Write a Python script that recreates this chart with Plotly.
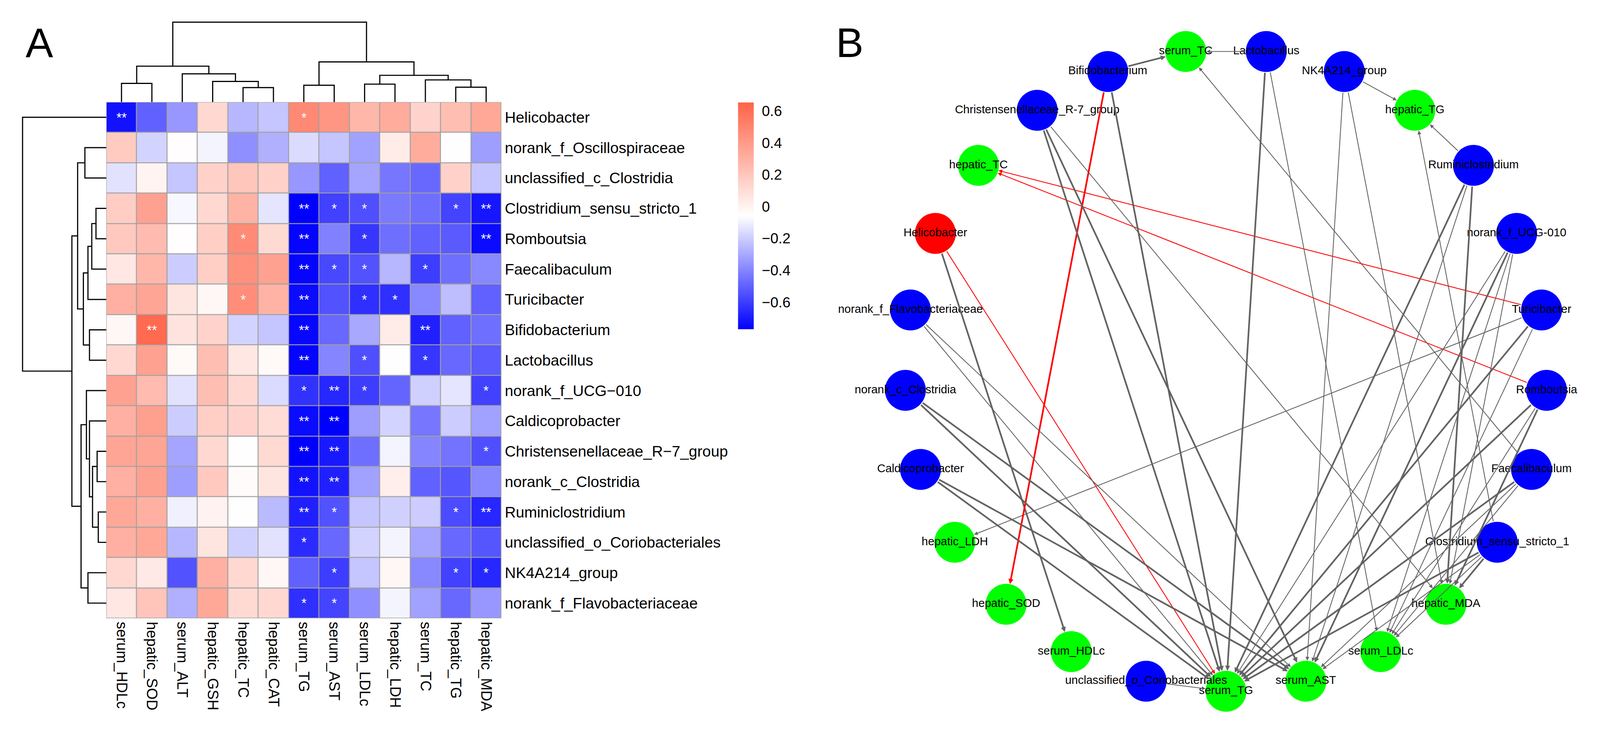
import math
import plotly.graph_objects as go

W, H = 4184, 1910
FONT = "Liberation Sans, Arial, sans-serif"

# ---------------- data ----------------
col_labels = ["serum_HDLc", "hepatic_SOD", "serum_ALT", "hepatic_GSH", "hepatic_TC", "hepatic_CAT",
              "serum_TG", "serum_AST", "serum_LDLc", "hepatic_LDH", "serum_TC", "hepatic_TG", "hepatic_MDA"]

row_labels = ["Helicobacter", "norank_f_Oscillospiraceae", "unclassified_c_Clostridia",
              "Clostridium_sensu_stricto_1", "Romboutsia", "Faecalibaculum", "Turicibacter",
              "Bifidobacterium", "Lactobacillus", "norank_f_UCG-010", "Caldicoprobacter",
              "Christensenellaceae_R-7_group", "norank_c_Clostridia", "Ruminiclostridium",
              "unclassified_o_Coriobacteriales", "NK4A214_group", "norank_f_Flavobacteriaceae"]

corr = [
    [-0.72, -0.50, -0.35, 0.12, -0.26, -0.22, 0.48, 0.42, 0.27, 0.32, 0.14, 0.24, 0.34],
    [0.18, -0.18, -0.05, -0.09, -0.37, -0.28, -0.16, -0.22, -0.32, 0.03, 0.32, -0.06, -0.33],
    [-0.14, -0.01, -0.22, 0.15, 0.20, 0.15, -0.35, -0.50, -0.31, -0.44, -0.48, 0.15, -0.22],
    [0.17, 0.37, -0.08, 0.12, 0.29, -0.13, -0.77, -0.59, -0.55, -0.43, -0.46, -0.58, -0.71],
    [0.19, 0.25, -0.05, 0.16, 0.47, 0.11, -0.76, -0.41, -0.62, -0.46, -0.50, -0.52, -0.74],
    [0.05, 0.27, -0.20, 0.16, 0.45, 0.37, -0.76, -0.57, -0.54, -0.26, -0.60, -0.46, -0.39],
    [0.30, 0.35, 0.06, -0.02, 0.46, 0.29, -0.74, -0.54, -0.64, -0.64, -0.39, -0.24, -0.50],
    [-0.02, 0.62, 0.07, 0.14, -0.18, -0.22, -0.75, -0.48, -0.30, 0.03, -0.68, -0.50, -0.46],
    [0.12, 0.37, -0.03, 0.24, 0.05, -0.03, -0.76, -0.40, -0.55, -0.06, -0.62, -0.48, -0.52],
    [0.37, 0.25, -0.14, 0.24, 0.12, -0.16, -0.63, -0.66, -0.60, -0.49, -0.19, -0.13, -0.59],
    [0.30, 0.38, -0.20, 0.16, 0.14, 0.10, -0.74, -0.77, -0.33, -0.18, -0.44, -0.20, -0.32],
    [0.35, 0.35, -0.31, 0.12, -0.06, 0.11, -0.77, -0.70, -0.46, -0.09, -0.40, -0.45, -0.55],
    [0.30, 0.37, -0.33, 0.19, -0.04, 0.06, -0.72, -0.68, -0.32, 0.02, -0.50, -0.53, -0.39],
    [0.34, 0.30, -0.10, 0.00, -0.06, -0.25, -0.68, -0.54, -0.22, -0.19, -0.20, -0.56, -0.66],
    [0.30, 0.34, -0.26, 0.06, -0.19, -0.14, -0.65, -0.48, -0.18, -0.09, -0.31, -0.48, -0.53],
    [0.12, 0.04, -0.54, 0.30, 0.12, -0.02, -0.50, -0.60, -0.22, -0.02, -0.39, -0.59, -0.66],
    [0.05, 0.21, -0.28, 0.34, 0.11, 0.12, -0.64, -0.58, -0.37, -0.09, -0.32, -0.48, -0.35],
]

sig = [
    ["**", "", "", "", "", "", "*", "", "", "", "", "", ""],
    ["", "", "", "", "", "", "", "", "", "", "", "", ""],
    ["", "", "", "", "", "", "", "", "", "", "", "", ""],
    ["", "", "", "", "", "", "**", "*", "*", "", "", "*", "**"],
    ["", "", "", "", "*", "", "**", "", "*", "", "", "", "**"],
    ["", "", "", "", "", "", "**", "*", "*", "", "*", "", ""],
    ["", "", "", "", "*", "", "**", "", "*", "*", "", "", ""],
    ["", "**", "", "", "", "", "**", "", "", "", "**", "", ""],
    ["", "", "", "", "", "", "**", "", "*", "", "*", "", ""],
    ["", "", "", "", "", "", "*", "**", "*", "", "", "", "*"],
    ["", "", "", "", "", "", "**", "**", "", "", "", "", ""],
    ["", "", "", "", "", "", "**", "**", "", "", "", "", "*"],
    ["", "", "", "", "", "", "**", "**", "", "", "", "", ""],
    ["", "", "", "", "", "", "**", "*", "", "", "", "*", "**"],
    ["", "", "", "", "", "", "*", "", "", "", "", "", ""],
    ["", "", "", "", "", "", "", "*", "", "", "", "*", "*"],
    ["", "", "", "", "", "", "*", "*", "", "", "", "", ""],
]

# column dendrogram merges: (child a, child b, height); ids >= 13 refer to earlier merges
col_merges = [(0, 1, 49), (4, 5, 38), (3, 14, 54), (2, 15, 74), (13, 16, 94),
              (6, 7, 44), (8, 9, 47), (11, 12, 39), (10, 20, 58), (19, 21, 70),
              (18, 22, 105), (17, 23, 209)]

# row dendrogram merges: ids >= 17 refer to earlier merges
row_merges = [(3, 4, 27), (17, 5, 38), (6, 18, 48), (7, 8, 44), (19, 20, 60),
              (1, 2, 56), (22, 21, 75),
              (11, 12, 24), (13, 14, 21), (24, 25, 36), (10, 26, 44), (9, 27, 52),
              (15, 16, 48), (28, 29, 66),
              (23, 30, 90), (0, 31, 219)]

# network: circular layout order (from bottom, counter-clockwise)
net_order = ["serum_TG", "serum_AST", "serum_LDLc", "hepatic_MDA", "Clostridium_sensu_stricto_1",
             "Faecalibaculum", "Romboutsia", "Turicibacter", "norank_f_UCG-010", "Ruminiclostridium",
             "hepatic_TG", "NK4A214_group", "Lactobacillus", "serum_TC", "Bifidobacterium",
             "Christensenellaceae_R-7_group", "hepatic_TC", "Helicobacter", "norank_f_Flavobacteriaceae",
             "norank_c_Clostridia", "Caldicoprobacter", "hepatic_LDH", "hepatic_SOD", "serum_HDLc",
             "unclassified_o_Coriobacteriales"]
red_nodes = ["Helicobacter"]


# ---------------- helpers ----------------
def px(x):
    return x / W


def py(y):
    return 1 - y / H


def dendro_segments(n, merges):
    pos = {i: float(i) for i in range(n)}
    hgt = {i: 0.0 for i in range(n)}
    segs = []
    for k, (a, b, h) in enumerate(merges):
        nid = n + k
        segs.append(([pos[a], pos[a], pos[b], pos[b]], [hgt[a], h, h, hgt[b]]))
        pos[nid] = (pos[a] + pos[b]) / 2
        hgt[nid] = h
    return segs


fig = go.Figure()

# ---------------- heatmap ----------------
disp_rows = [r.replace("-", "\u2212") for r in row_labels]
fig.add_trace(go.Heatmap(
    z=corr, x=list(range(len(col_labels))), y=list(range(len(row_labels))),
    text=sig, texttemplate="%{text}", textfont=dict(color="white", size=35, family=FONT),
    colorscale=[[0, "#0000FF"], [0.5, "#FFFFFF"], [1, "#FF6347"]],
    zmin=-0.77, zmax=0.653, xgap=2.5, ygap=2.5,
    xaxis="x", yaxis="y", hoverinfo="skip",
    colorbar=dict(
        x=px(1930), xanchor="left", y=py(268), yanchor="top",
        len=593, lenmode="pixels", thickness=41, thicknessmode="pixels",
        xpad=0, ypad=0, outlinewidth=0,
        tickvals=[0.6, 0.4, 0.2, 0, -0.2, -0.4, -0.6],
        ticktext=["0.6", "0.4", "0.2", "0", "\u22120.2", "\u22120.4", "\u22120.6"],
        ticks="outside", ticklen=14, tickcolor="rgba(0,0,0,0)",
        tickfont=dict(size=38, family=FONT, color="black"),
    ),
))

# column dendrogram
for xs, ys in dendro_segments(len(col_labels), col_merges):
    fig.add_trace(go.Scatter(x=xs, y=ys, mode="lines", line=dict(color="black", width=3),
                             xaxis="x2", yaxis="y2", hoverinfo="skip", showlegend=False))
# row dendrogram
for ys, xs in dendro_segments(len(row_labels), row_merges):
    fig.add_trace(go.Scatter(x=xs, y=ys, mode="lines", line=dict(color="black", width=3),
                             xaxis="x3", yaxis="y3", hoverinfo="skip", showlegend=False))

# ---------------- network ----------------
cx, cy, R = 3206, 968, 840
npos = {}
for k, name in enumerate(net_order):
    a = math.radians(-90 + k * 360 / len(net_order))
    npos[name] = (cx + R * math.cos(a), cy - R * math.sin(a))

node_colors = []
for name in net_order:
    if name in red_nodes:
        node_colors.append("#FF0000")
    elif name in col_labels:
        node_colors.append("#00FF00")
    else:
        node_colors.append("#0000FF")

fig.add_trace(go.Scatter(
    x=[npos[n][0] for n in net_order], y=[npos[n][1] for n in net_order],
    mode="markers+text", text=net_order, textposition="middle center",
    textfont=dict(size=30, family=FONT, color="black"),
    marker=dict(size=107, color=node_colors, line=dict(width=0)),
    xaxis="x4", yaxis="y4", hoverinfo="skip", showlegend=False))

annotations = []
for i, rname in enumerate(row_labels):
    for j, cname in enumerate(col_labels):
        s = sig[i][j]
        if not s or rname not in npos:
            continue
        sx, sy = npos[rname]
        tx, ty = npos[cname]
        w = 4.4 if s == "**" else 2.2
        annotations.append(dict(
            x=tx, y=ty, ax=sx, ay=sy, xref="x4", yref="y4", axref="x4", ayref="y4",
            showarrow=True, arrowhead=2, arrowsize=0.9 if s == "*" else 0.6, arrowwidth=w,
            arrowcolor="#FF0000" if corr[i][j] > 0 else "#636363",
            standoff=54, startstandoff=54, text=""))

annotations.append(dict(text="A", x=px(103), y=py(111), xref="paper", yref="paper",
                        xanchor="center", yanchor="middle",
                        showarrow=False, font=dict(size=108, family=FONT, color="black")))
annotations.append(dict(text="B", x=px(2222), y=py(111), xref="paper", yref="paper",
                        xanchor="center", yanchor="middle",
                        showarrow=False, font=dict(size=108, family=FONT, color="black")))

hidden = dict(showgrid=False, zeroline=False, showticklabels=False, showline=False, ticks="")

fig.update_layout(
    width=W, height=H, autosize=False, margin=dict(l=0, r=0, t=0, b=0),
    paper_bgcolor="white", plot_bgcolor="white", showlegend=False,
    font=dict(family=FONT, color="black"),
    xaxis=dict(domain=[px(278), px(1311)], range=[-0.5, 12.5], tickvals=list(range(len(col_labels))),
               ticktext=col_labels, tickangle=90, showgrid=False, zeroline=False, ticks="",
               tickfont=dict(size=39, family=FONT, color="black"), ticklabelstandoff=8,
               anchor="y", fixedrange=True),
    yaxis=dict(domain=[py(1617), py(267)], range=[16.5, -0.5], tickvals=list(range(len(row_labels))),
               ticktext=disp_rows, side="right", showgrid=False, zeroline=False, ticks="",
               tickfont=dict(size=40, family=FONT, color="black"), ticklabelstandoff=8,
               anchor="x", fixedrange=True),
    xaxis2=dict(domain=[px(278), px(1311)], range=[-0.5, 12.5], anchor="y2", **hidden),
    yaxis2=dict(domain=[py(267), py(40)], range=[0, 227], anchor="x2", **hidden),
    xaxis3=dict(domain=[px(40), px(278)], range=[238, 0], anchor="y3", **hidden),
    yaxis3=dict(domain=[py(1617), py(267)], range=[16.5, -0.5], anchor="x3", **hidden),
    xaxis4=dict(domain=[px(2150), 1], range=[2150, 4184], anchor="y4", **hidden),
    yaxis4=dict(domain=[0, 1], range=[1910, 0], anchor="x4", **hidden),
    annotations=annotations,
    shapes=[dict(type="rect", xref="x", yref="y", x0=-0.5, x1=12.5, y0=-0.5, y1=16.5,
                 fillcolor="#A0A0A0", line=dict(color="#A0A0A0", width=3), layer="below")],
)

# fit the fixed-size figure to whatever viewport the page is opened in
fit_js = (
    "var gd=document.getElementById('{plot_id}');"
    "document.body.style.margin='0';"
    "document.documentElement.style.overflow='hidden';"
    "var s=Math.min(window.innerWidth/%d, window.innerHeight/%d);"
    "gd.style.transformOrigin='0 0';"
    "gd.style.transform='scale('+s+')';" % (W, H)
)

fig.write_html("out.html", post_script=fit_js, config={"displayModeBar": False})
